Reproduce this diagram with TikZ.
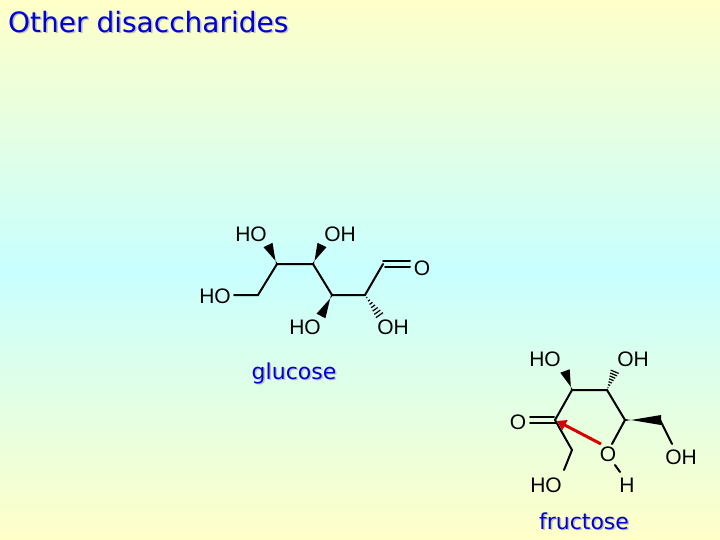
\documentclass[tikz,border=0pt]{standalone}
\usepackage{fontspec}
\setmainfont{Liberation Sans}
\newfontfamily\titlefont{DejaVu Sans}
\usetikzlibrary{calc,arrows.meta}
\definecolor{bgy}{RGB}{255,255,200}
\definecolor{bgc}{RGB}{200,255,255}
\definecolor{ttl}{RGB}{0,0,210}
\tikzset{
  bond/.style={line width=2pt,line cap=round},
  atom/.style={font=\fontsize{21}{21}\selectfont,inner sep=0pt},
  lbl/.style={font=\titlefont\fontsize{22}{22}\selectfont,text=ttl,inner sep=0pt},
}
\newcommand{\hashw}[2]{%
  \foreach \f in {0.12,0.26,0.40,0.54,0.68,0.82,0.96}{%
    \draw[line width=1.2pt] ($($(#1)!\f!(#2)$)!{\f*4.5pt}!90:(#2)$) -- ($($(#1)!\f!(#2)$)!{\f*4.5pt}!-90:(#2)$);}}
\newcommand{\solw}[2]{%
  \fill ($(#1)!1pt!90:(#2)$) -- ($(#2)!5pt!90:(#1)$) -- ($(#2)!5pt!-90:(#1)$) -- ($(#1)!1pt!-90:(#2)$) -- cycle;}
\begin{document}
\begin{tikzpicture}[x=1pt,y=-1pt]
\shade[top color=bgy,bottom color=bgy,middle color=bgc] (0,0) rectangle (720,540);
\useasboundingbox (0,0) rectangle (720,540);
% title
\node[lbl,font=\titlefont\fontsize{28}{28}\selectfont,text=gray!50,anchor=west] at (9.5,23.5) {Other disaccharides};
\node[lbl,font=\titlefont\fontsize{28}{28}\selectfont,anchor=west] (title) at (8,22) {Other disaccharides};
% glucose
\coordinate (g1) at (383,264);
\coordinate (g2) at (365,295);
\coordinate (g3) at (332,295);
\coordinate (g4) at (313,264);
\coordinate (g5) at (277,264);
\coordinate (g6) at (258,295);
\node[atom] (gO) at (422,268) {O};
\node[atom] (gHO6) at (215,296) {HO};
\node[atom] (gHO5) at (251,234) {HO};
\node[atom] (gOH4) at (340,234) {OH};
\node[atom] (gHO3) at (305,327) {HO};
\node[atom] (gOH2) at (393,327) {OH};
\draw[bond] (g1)--(g2)--(g3)--(g4)--(g5)--(g6)--(234,295);
\draw[bond] ($(g1)+(0,-3)$)--(410,261) ($(g1)+(2,3)$)--(410,267);
\solw{g5}{268,245}
\solw{g4}{322,245}
\solw{g3}{321,316}
\hashw{g2}{380,316}
% fructose
\coordinate (f2) at (555,420);
\coordinate (f3) at (572,390);
\coordinate (f4) at (607,390);
\coordinate (f5) at (625,420);
\coordinate (f6) at (660,420);
\coordinate (f1) at (572,450);
\node[atom] (fO) at (518,422) {O};
\node[atom] (fHO3) at (545,359) {HO};
\node[atom] (fOH4) at (633,359) {OH};
\node[atom] (fOr) at (608,454) {O};
\node[atom] (fH) at (627,485) {H};
\node[atom] (fOH6) at (681,457) {OH};
\node[atom] (fHO1) at (546,485) {HO};
\draw[bond] (f2)--(f3)--(f4)--(f5)--(612,444);
\draw[bond] (f6)--(672,444);
\draw[bond] (f2)--(f1)--(564,470);
\draw[bond] (615,465)--(620,472);
\draw[bond] ($(f2)+(-1,-3)$)--(530,417) ($(f2)+(1,3)$)--(530,423);
\solw{f3}{565,371}
\hashw{f4}{615,371}
\solw{f5}{661,420}
\draw[red!85!black,line width=3pt,-{Triangle[length=9pt,width=11pt]}] (601,444)--(557,421);
% labels
\node[lbl,text=gray!50] at (295.5,374.5) {glucose};
\node[lbl] (glc) at (294,373) {glucose};
\node[lbl,text=gray!50] at (585.5,522.5) {fructose};
\node[lbl] (frc) at (584,521) {fructose};
\end{tikzpicture}
\end{document}
